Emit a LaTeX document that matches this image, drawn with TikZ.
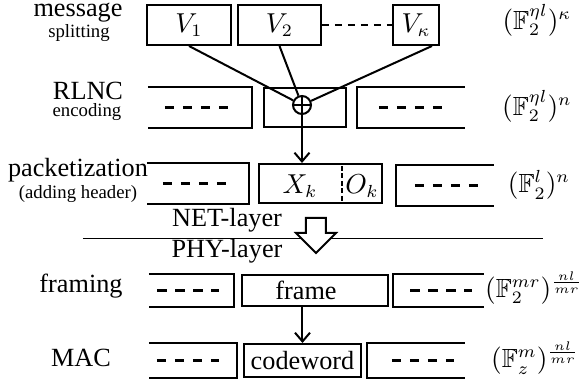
\documentclass[tikz,border=0pt]{standalone}
\usepackage{amssymb}
\usepackage{fontspec}
\setmainfont{Liberation Serif}
\usetikzlibrary{calc,arrows.meta}

\tikzset{
  blk/.style={draw, rectangle, inner sep=0pt},
  half/.style={rectangle, inner sep=0pt},
  dsh/.style={line width=1.2pt, dash pattern=on 3.8pt off 3.4pt},
  lbl/.style={anchor=base},
  sml/.style={anchor=base, font=\fontsize{7.5}{9}\selectfont},
}

\begin{document}
\begin{tikzpicture}[x=0.4pt, y=-0.4pt, >={Straight Barb[length=3.5pt,width=6pt]}, thick,
  every node/.style={inner sep=0pt}, font=\fontsize{10.5}{12}\selectfont]
\useasboundingbox (0,0) rectangle (583,384);
% message splitting
\node[lbl] (msg) at (78,17) {message};
\node[sml] (spl) at (79,38) {splitting};
\node[blk, minimum width=33.6pt, minimum height=16pt] (v1) at (189,25) {$V_1$};
\node[blk, minimum width=33.2pt, minimum height=16pt] (v2) at (279.5,25) {$V_2$};
\node[blk, minimum width=18.4pt, minimum height=16pt] (vk) at (416,25) {$V_\kappa$};
\draw[line width=1pt, dash pattern=on 3pt off 2.2pt] (v2.east) -- (vk.west);
\node (fk) at (537,20) {$(\mathbb{F}_2^{\eta l})^{\kappa}$};

% RLNC encoding
\node[lbl] (rlnc) at (88,100) {RLNC};
\node[sml] (enc) at (87,117) {encoding};
\node[half, minimum width=40.8pt, minimum height=15.6pt] (e1) at (200,107.5) {};
\draw (e1.north west) -- (e1.north east) -- (e1.south east) -- (e1.south west);
\draw[dsh] ($(e1.center)+(-35,0)$) -- +(64,0);
\node[blk, minimum width=32.8pt, minimum height=15.6pt] (e2) at (305,107.5) {};
\node[half, minimum width=42.4pt, minimum height=15.6pt] (e3) at (411,107.5) {};
\draw (e3.north east) -- (e3.north west) -- (e3.south west) -- (e3.south east);
\draw[dsh] ($(e3.center)+(-32,0)$) -- +(64,0);
\node[circle, draw, minimum size=7.2pt] (xor) at (302,105) {};
\draw (xor.north) -- (xor.south) (xor.west) -- (xor.east);
\draw (v1.south) -- (xor);
\draw (v2.south) -- (xor);
\draw ($(vk.south)+(16,0)$) -- (xor);
\node (fn) at (537,106) {$(\mathbb{F}_2^{\eta l})^{n}$};

% packetization
\node[lbl] (pkt) at (78,177) {packetization};
\node[sml] (hdr) at (78,199) {(adding header)};
\node[half, minimum width=40pt, minimum height=15.6pt] (p1) at (198,183.5) {};
\draw (p1.north west) -- (p1.north east) -- (p1.south east) -- (p1.south west);
\draw[dsh] ($(p1.center)+(-35,0)$) -- +(64,0);
\node[blk, minimum width=49.2pt, minimum height=15.6pt] (p2) at (320.5,183.5) {};
\node (xk) at (300,186) {$X_k$};
\node (ok) at (362,186) {$O_k$};
\draw[line width=1pt, dash pattern=on 2pt off 1pt] (342,166) -- (342,201);
\node[half, minimum width=38.4pt, minimum height=15.6pt] (p3) at (445,185.5) {};
\draw (p3.north east) -- (p3.north west) -- (p3.south west) -- (p3.south east);
\draw[dsh] ($(p3.center)+(-30,0)$) -- +(64,0);
\node (fl) at (539,185) {$(\mathbb{F}_2^{l})^{n}$};
\draw[->] (xor.south) -- (xor.south |- p2.north);

% NET / PHY boundary
\draw[thin] (83,239) -- (543,239);
\node[lbl] (net) at (227,227) {NET-layer};
\node[lbl] (phy) at (227,258) {PHY-layer};
\draw[fill=white] (306,218) -- (326,218) -- (326,233) -- (336,233) -- (316,253)
  -- (296,233) -- (306,233) -- cycle;

% framing
\node[lbl] (frm) at (81,293) {framing};
\node[half, minimum width=33.2pt, minimum height=12.4pt] (f1) at (191.5,290.5) {};
\draw (f1.north west) -- (f1.north east) -- (f1.south east) -- (f1.south west);
\draw[dsh] ($(f1.center)+(-34,0)$) -- +(62,0);
\node[blk, minimum width=58.4pt, minimum height=12.4pt] (f2) at (315,290.5) {};
\node (frt) at (306,290) {frame};
\node[half, minimum width=35.6pt, minimum height=12.4pt] (f3) at (438.5,290.5) {};
\draw (f3.north east) -- (f3.north west) -- (f3.south west) -- (f3.south east);
\draw[dsh] ($(f3.center)+(-28,0)$) -- +(62,0);
\node (fmr) at (534,288) {$(\mathbb{F}_2^{mr})^{\frac{nl}{mr}}$};

% MAC
\node[lbl] (mac) at (81,367) {MAC};
\node[half, minimum width=34.4pt, minimum height=13.2pt] (c1) at (193,360.5) {};
\draw (c1.north west) -- (c1.north east) -- (c1.south east) -- (c1.south west);
\draw[dsh] ($(c1.center)+(-36,0)$) -- +(62,0);
\node[blk, minimum width=46.8pt, minimum height=13.2pt] (c2) at (302.5,360.5) {codeword};
\node[half, minimum width=38.4pt, minimum height=13.2pt] (c3) at (416,360.5) {};
\draw (c3.north east) -- (c3.north west) -- (c3.south west) -- (c3.south east);
\draw[dsh] ($(c3.center)+(-24,0)$) -- +(62,0);
\node (fmz) at (535,358) {$(\mathbb{F}_z^{m})^{\frac{nl}{mr}}$};
\draw[->] (c2.north |- f2.south) -- (c2.north);
\end{tikzpicture}
\end{document}
